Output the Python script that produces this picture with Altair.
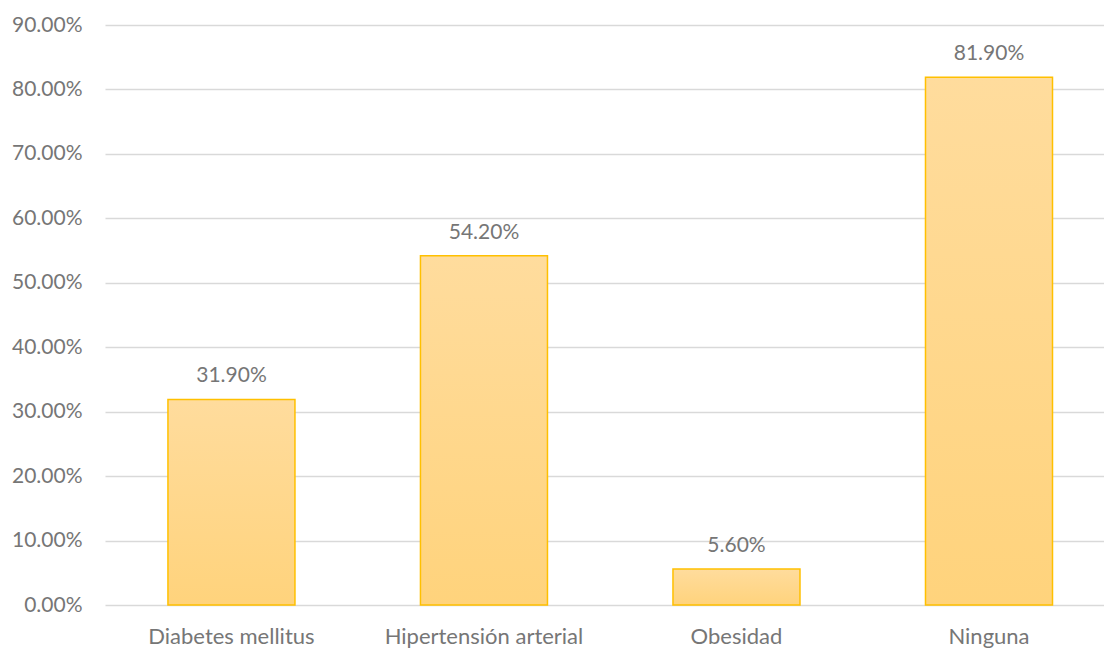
import altair as alt
import pandas as pd

categories = ["Diabetes mellitus", "Hipertensión arterial", "Obesidad", "Ninguna"]
values = [31.9, 54.2, 5.6, 81.9]
labels = ["31.90%", "54.20%", "5.60%", "81.90%"]
y_ticks = [0, 10, 20, 30, 40, 50, 60, 70, 80, 90]

df = pd.DataFrame({"cat": categories, "val": values, "lab": labels})

FONT = "Lato"
GRAY = "#767676"

x_scale = alt.Scale(paddingInner=0.497, paddingOuter=0.2266, align=0.55)
y_scale = alt.Scale(domain=[0, 90], nice=False)

x_axis = alt.Axis(
    title=None, labelAngle=0, domain=False, ticks=False, grid=False,
    labelFont=FONT, labelFontSize=22, labelColor=GRAY, labelPadding=21,
    labelLimit=400,
)
y_axis = alt.Axis(
    title=None, values=y_ticks, domain=False, ticks=False,
    labelExpr="format(datum.value, '.2f') + '%'",
    labelFont=FONT, labelFontSize=21, labelColor=GRAY, labelPadding=23,
    grid=True, gridColor="#D9D9D9", gridWidth=1.3,
)

bars = alt.Chart(df).mark_bar(
    color=alt.Gradient(
        gradient="linear",
        stops=[
            alt.GradientStop(color="#FFDC9D", offset=0),
            alt.GradientStop(color="#FFD37C", offset=1),
        ],
        x1=0, x2=0, y1=0, y2=1,
    ),
    stroke="#FFC000",
    strokeWidth=1.5,
).encode(
    x=alt.X("cat:N", sort=categories, scale=x_scale, axis=x_axis),
    y=alt.Y("val:Q", scale=y_scale, axis=y_axis),
)

text = alt.Chart(df).mark_text(
    font=FONT, fontSize=21, color=GRAY, baseline="alphabetic", dy=-17,
).encode(
    x=alt.X("cat:N", sort=categories, scale=x_scale, axis=x_axis),
    y=alt.Y("val:Q", scale=y_scale, axis=y_axis),
    text="lab:N",
)

chart = (
    alt.layer(bars, text)
    .properties(
        width=999,
        height=580,
        background="white",
        autosize=alt.AutoSizeParams(type="none"),
        padding={"left": 105, "top": 25, "right": 0, "bottom": 44},
    )
    .configure_axis(domain=False, ticks=False)
    .configure_view(stroke=None, strokeWidth=0)
)

chart.save("out.html", embed_options={"renderer": "svg", "actions": False})
